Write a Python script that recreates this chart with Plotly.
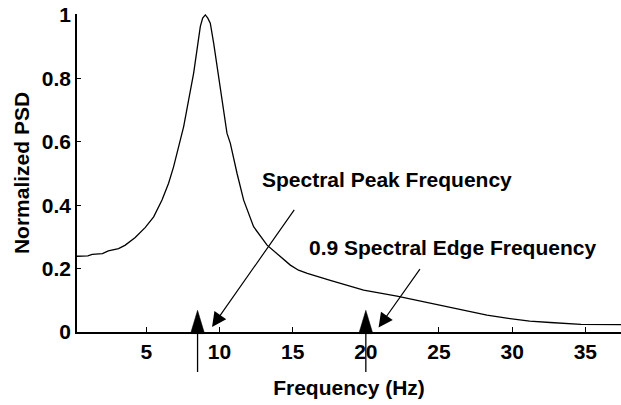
import plotly.graph_objects as go

# Normalized PSD curve
freq = [0.26, 1.0, 1.3, 2.0, 2.4, 3.1, 3.56, 4.24, 4.93, 5.5, 6.07, 6.52, 6.86, 7.16,
        7.55, 7.89, 8.23, 8.46, 8.69, 8.85, 9.03, 9.2, 9.37, 9.6, 9.85, 10.17, 10.51,
        10.74, 11.0, 11.2, 11.65, 12.33, 13.25, 14.16, 14.84, 15.4, 16.0, 17.57, 19.85,
        22.13, 24.4, 26.7, 27.14, 28.28, 29.4, 30.3, 31.2, 32.6, 34.7, 37.44]
psd = [0.239, 0.240, 0.245, 0.247, 0.256, 0.263, 0.274, 0.298, 0.33, 0.363, 0.416, 0.469,
       0.521, 0.574, 0.648, 0.732, 0.816, 0.89, 0.964, 0.99, 1.0, 0.99, 0.974, 0.911, 0.83,
       0.732, 0.627, 0.595, 0.54, 0.50, 0.416, 0.332, 0.274, 0.237, 0.211, 0.195, 0.185,
       0.163, 0.132, 0.113, 0.09, 0.069, 0.063, 0.053, 0.045, 0.039, 0.034, 0.03, 0.024,
       0.023]

x_ticks = [5, 10, 15, 20, 25, 30, 35]
y_ticks = [0, 0.2, 0.4, 0.6, 0.8, 1]
y_tick_labels = ["0", "0.2", "0.4", "0.6", "0.8", "1"]

# Marker frequencies (vertical arrows)
marker_freqs = [8.5, 20.0]

# Callout labels and their arrows
callout_texts = ["Spectral Peak Frequency", "0.9 Spectral Edge Frequency"]
callout_text_x = [12.75, 15.95]
callout_text_y = [0.48, 0.265]
callout_tip_x = [9.49, 20.87]
callout_tip_y = [0.016, 0.014]
callout_tail_x = [15.18, 23.77]
callout_tail_y = [0.39, 0.203]

FONT = "Liberation Sans, Arial, sans-serif"
FS = 21

fig = go.Figure()
fig.add_trace(go.Scatter(x=freq, y=psd, mode="lines",
                         line=dict(color="black", width=1.3), showlegend=False))

annotations = []
for t, tx, ty in zip(callout_texts, callout_text_x, callout_text_y):
    annotations.append(dict(x=tx, y=ty, xref="x", yref="y", text=t, showarrow=False,
                            xanchor="left", yanchor="middle",
                            font=dict(family=FONT, size=FS, color="black", weight="bold")))
for x, y, ax, ay in zip(callout_tip_x, callout_tip_y, callout_tail_x, callout_tail_y):
    annotations.append(dict(x=x, y=y, xref="x", yref="y", ax=ax, ay=ay, axref="x", ayref="y",
                            text="", showarrow=True, arrowhead=2, arrowsize=2.4,
                            arrowwidth=1.2, arrowcolor="black"))

shapes = []
for f in marker_freqs:
    shapes.append(dict(type="path", xref="x", xsizemode="pixel", xanchor=f,
                       yref="paper", ysizemode="pixel", yanchor=0,
                       path="M 0,-40 L 0,0", line=dict(color="black", width=1.3)))
    shapes.append(dict(type="path", xref="x", xsizemode="pixel", xanchor=f,
                       yref="paper", ysizemode="pixel", yanchor=0,
                       path="M -7,-1.6 L 7,-1.6 L 0,21.7 Z", fillcolor="black",
                       line=dict(color="black", width=0.5)))

fig.update_layout(
    width=621, height=405,
    margin=dict(l=77, r=0, t=14, b=73),
    paper_bgcolor="white", plot_bgcolor="white",
    font=dict(family=FONT, size=FS, color="black", weight="bold"),
    annotations=annotations, shapes=shapes,
    xaxis=dict(range=[0.26, 37.44], tickvals=x_ticks, ticks="inside", ticklen=5,
               tickwidth=1, tickcolor="black", showline=True, linecolor="black",
               linewidth=2, showgrid=False, zeroline=False,
               tickfont=dict(family=FONT, size=FS, weight="bold"),
               title=dict(text="Frequency (Hz)", standoff=18,
                          font=dict(family=FONT, size=FS, weight="bold"))),
    yaxis=dict(range=[0, 1.003], tickvals=y_ticks, ticktext=y_tick_labels,
               ticks="inside", ticklen=4, tickwidth=1, tickcolor="black",
               showline=True, linecolor="black", linewidth=1.5, showgrid=False,
               zeroline=False, tickfont=dict(family=FONT, size=FS, weight="bold"),
               title=dict(text="Normalized PSD", standoff=6,
                          font=dict(family=FONT, size=FS, weight="bold"))),
)

fig.write_html("out.html")
